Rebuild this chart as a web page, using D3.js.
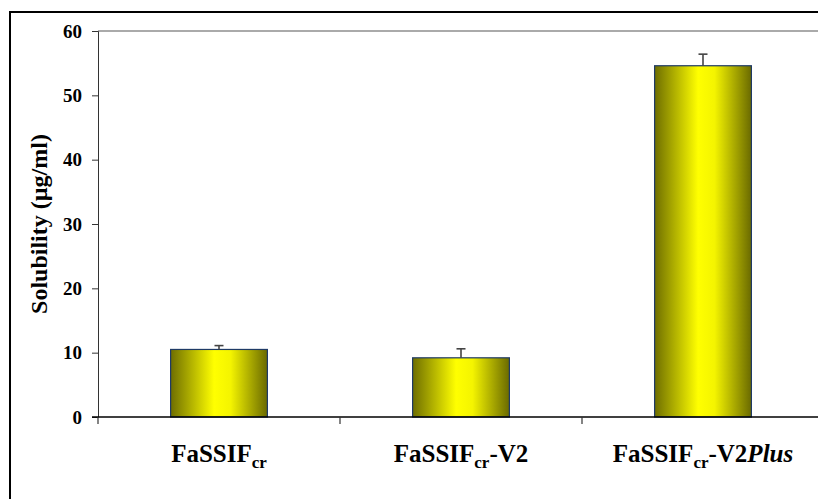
<!DOCTYPE html>
<html>
<head>
<meta charset="utf-8">
<script src="https://cdn.jsdelivr.net/npm/d3@7"></script>
<style>
  body { margin: 0; background: #fff; }
  svg text { font-family: "Liberation Serif", "Times New Roman", serif; font-weight: bold; fill: #000; }
</style>
</head>
<body>
<svg id="chart" width="818" height="499"></svg>
<script>
// data
var categories = ["FaSSIF_cr", "FaSSIF_cr-V2", "FaSSIF_cr-V2Plus"]
var solubility = [10.5, 9.2, 54.6]
var errUp = [0.6, 1.4, 1.8]
var yTicks = [0, 10, 20, 30, 40, 50, 60]

var svg = d3.select("#chart"),
    plotLeft = 98, plotRight = 824, plotTop = 31, plotBottom = 417;

// outer frame (right and bottom fall outside the picture)
svg.append("rect")
    .attr("x", 10).attr("y", 12)
    .attr("width", 830).attr("height", 510)
    .attr("fill", "none").attr("stroke", "#000").attr("stroke-width", 2);

var x = d3.scaleBand()
    .domain(categories)
    .range([plotLeft, plotRight])
    .paddingInner(0.6)
    .paddingOuter(0.3);

var y = d3.scaleLinear()
    .domain([0, 60])
    .range([plotBottom, plotTop]);

// gradient for the bars
var grad = svg.append("defs").append("linearGradient")
    .attr("id", "barGrad")
    .attr("x1", "0%").attr("x2", "100%").attr("y1", "0%").attr("y2", "0%");
grad.append("stop").attr("offset", "0%").attr("stop-color", "#6e6e00");
grad.append("stop").attr("offset", "22%").attr("stop-color", "#b4b400");
grad.append("stop").attr("offset", "45%").attr("stop-color", "#ffff00");
grad.append("stop").attr("offset", "62%").attr("stop-color", "#f4f400");
grad.append("stop").attr("offset", "100%").attr("stop-color", "#6a6a00");

// top line of plot area
svg.append("line")
    .attr("x1", plotLeft).attr("x2", 818)
    .attr("y1", y(60)).attr("y2", y(60))
    .attr("stroke", "#aaaaaa").attr("stroke-width", 2);

// y axis
var yAxis = svg.append("g")
    .attr("transform", "translate(" + plotLeft + ",0)")
    .call(d3.axisLeft(y).tickValues(yTicks).tickSize(6).tickPadding(10));
yAxis.select(".domain").attr("stroke", "#333");
yAxis.selectAll(".tick line").attr("stroke", "#333");
yAxis.selectAll("text")
    .style("font-size", "19px");

// bars
svg.append("g").selectAll("rect")
    .data(categories)
    .enter().append("rect")
    .attr("x", function (d) { return x(d); })
    .attr("y", function (d, i) { return y(solubility[i]); })
    .attr("width", x.bandwidth())
    .attr("height", function (d, i) { return y(0) - y(solubility[i]); })
    .attr("fill", "url(#barGrad)")
    .attr("stroke", "#1f3a66")
    .attr("stroke-width", 1.2);

// error bars, upward only
var eb = svg.append("g").selectAll("g")
    .data(categories)
    .enter().append("g")
    .attr("stroke", "#444").attr("stroke-width", 1.6);
eb.append("line")
    .attr("x1", function (d) { return x(d) + x.bandwidth() / 2; })
    .attr("x2", function (d) { return x(d) + x.bandwidth() / 2; })
    .attr("y1", function (d, i) { return y(solubility[i]); })
    .attr("y2", function (d, i) { return y(solubility[i] + errUp[i]); });
eb.append("line")
    .attr("x1", function (d) { return x(d) + x.bandwidth() / 2 - 4.5; })
    .attr("x2", function (d) { return x(d) + x.bandwidth() / 2 + 4.5; })
    .attr("y1", function (d, i) { return y(solubility[i] + errUp[i]); })
    .attr("y2", function (d, i) { return y(solubility[i] + errUp[i]); });

// x axis: ticks sit between the categories
var step = x.step();
var bounds = [plotLeft, plotLeft + step, plotLeft + 2 * step];
svg.append("line")
    .attr("x1", plotLeft - 6).attr("x2", 818)
    .attr("y1", plotBottom).attr("y2", plotBottom)
    .attr("stroke", "#000").attr("stroke-width", 1.5);
svg.append("g").selectAll("line")
    .data(bounds)
    .enter().append("line")
    .attr("x1", function (d) { return d; }).attr("x2", function (d) { return d; })
    .attr("y1", plotBottom).attr("y2", plotBottom + 7)
    .attr("stroke", "#333").attr("stroke-width", 1.2);

// category labels with subscript
var lab = svg.append("g").selectAll("text")
    .data(categories)
    .enter().append("text")
    .attr("x", function (d) { return x(d) + x.bandwidth() / 2; })
    .attr("y", 462)
    .attr("text-anchor", "middle")
    .style("font-size", "25px");
lab.append("tspan").text("FaSSIF");
lab.append("tspan").attr("dy", 6).style("font-size", "17px").text("cr");
lab.filter(function (d, i) { return i > 0; })
    .append("tspan").attr("dy", -6).text("-V2");
lab.filter(function (d, i) { return i == 2; })
    .append("tspan").style("font-style", "italic").text("Plus");

// y axis title
svg.append("text")
    .attr("transform", "translate(47," + (plotTop + plotBottom) / 2 + ") rotate(-90)")
    .attr("text-anchor", "middle")
    .style("font-size", "24px")
    .text("Solubility (µg/ml)");
</script>
</body>
</html>
